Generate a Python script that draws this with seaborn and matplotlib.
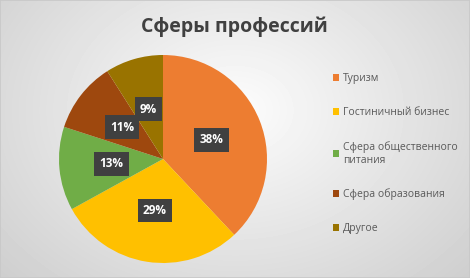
import numpy as np
import matplotlib
matplotlib.use("Agg")
import matplotlib.pyplot as plt
import seaborn as sns
from matplotlib.patches import Rectangle

categories = ["Туризм", "Гостиничный бизнес", "Сфера общественного\nпитания",
              "Сфера образования", "Другое"]
shares = [38, 29, 13, 11, 9]
colors = ["#ED7D31", "#FFC000", "#70AD47", "#9E480E", "#997300"]

sns.set_theme(style="white")
plt.rcParams["font.family"] = ["Open Sans", "DejaVu Sans"]

fig = plt.figure(figsize=(4.7, 2.78), dpi=100)

# radial gradient background
bg = fig.add_axes([0, 0, 1, 1], zorder=-10)
yy, xx = np.mgrid[0:278, 0:470]
d = np.sqrt(((xx - 235) / 300.0) ** 2 + ((yy - 110) / 230.0) ** 2)
shade = np.clip(0.99 - 0.17 * d, 0.8, 1.0)
bg.imshow(shade, cmap="gray", vmin=0, vmax=1, aspect="auto", extent=[0, 1, 0, 1])
bg.set_axis_off()
fig.patches.append(Rectangle((0, 0), 1, 1, transform=fig.transFigure, fill=False,
                             ec="#c8c8c8", lw=1.2))

ax = fig.add_axes([59 / 470, 15 / 278, 208 / 470, 208 / 278])
wedges, texts, autotexts = ax.pie(
    shares, colors=sns.color_palette(colors), startangle=90, counterclock=False,
    autopct="%d%%", pctdistance=0.5, wedgeprops=dict(linewidth=0),
    textprops=dict(color="white", fontsize=8.5, fontweight="bold"))
for t in autotexts:
    t.set_bbox(dict(boxstyle="square,pad=0.45", fc="#404040", ec="none"))
ax.set_xlim(-1, 1)
ax.set_ylim(-1, 1)

fig.text(0.498, 0.905, "Сферы профессий", ha="center", va="center",
         fontsize=14, fontweight="bold", color="#404040")

leg = fig.legend(wedges, categories, loc="upper left", bbox_to_anchor=(0.688, 0.77),
                 frameon=False, fontsize=7.5, labelcolor="#595959", handlelength=0.6,
                 handleheight=0.6, handletextpad=0.35, labelspacing=2.2)

fig.savefig("out.png", dpi=100)
